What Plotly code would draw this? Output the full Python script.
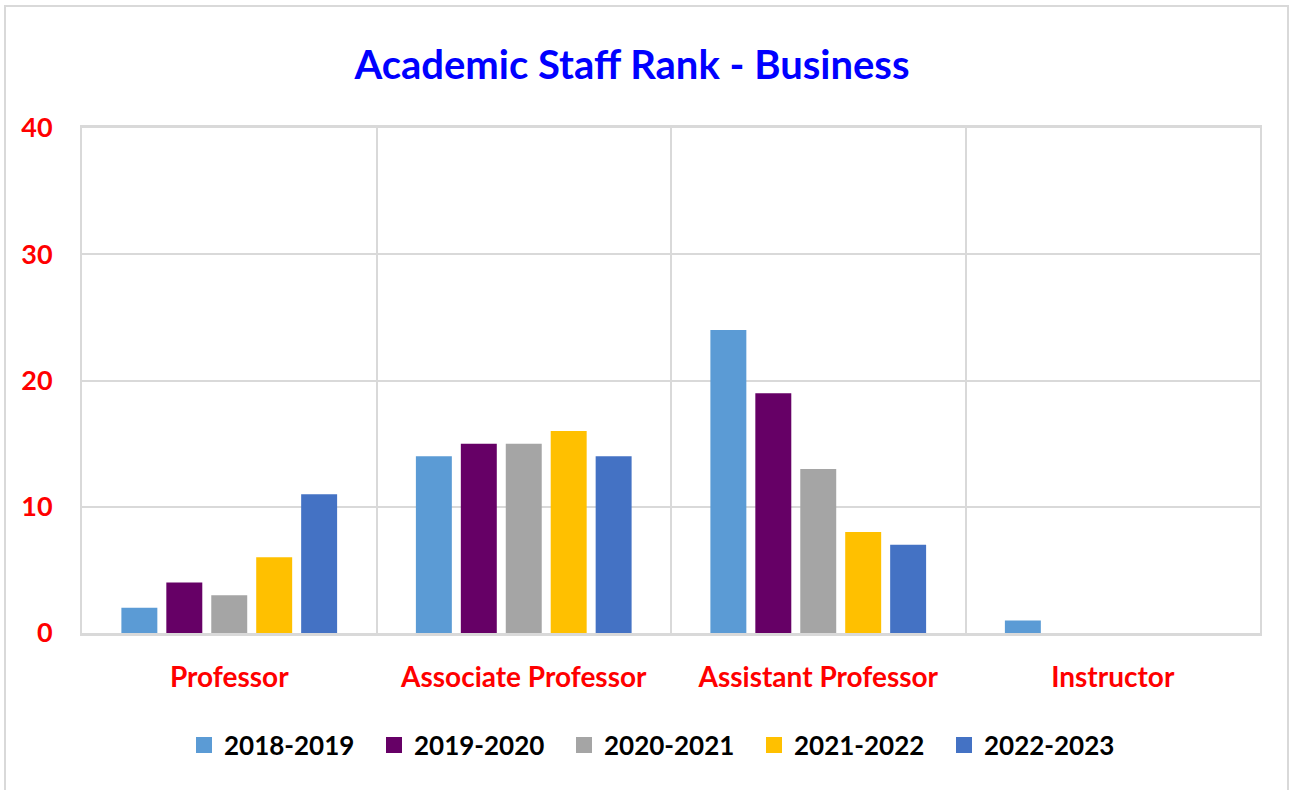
import plotly.graph_objects as go

categories = ["Professor", "Associate Professor", "Assistant Professor", "Instructor"]
years = ["2018-2019", "2019-2020", "2020-2021", "2021-2022", "2022-2023"]
v_2018_2019 = [2, 14, 24, 1]
v_2019_2020 = [4, 15, 19, 0]
v_2020_2021 = [3, 15, 13, 0]
v_2021_2022 = [6, 16, 8, 0]
v_2022_2023 = [11, 14, 7, 0]
series = [v_2018_2019, v_2019_2020, v_2020_2021, v_2021_2022, v_2022_2023]
colors = ["#5B9BD5", "#660066", "#A5A5A5", "#FFC000", "#4472C4"]
y_ticks = [0, 10, 20, 30, 40]

W, H = 1290, 790
ML, MR, MT, MB = 82, 30, 128, 157
FONT = "Lato"
GRID = "#D9D9D9"

fig = go.Figure()
for name, vals, col in zip(years, series, colors):
    fig.add_trace(go.Bar(x=categories, y=vals, name=name, marker_color=col,
                         marker_line_width=0, showlegend=False))
for name, col in zip(years, colors):
    fig.add_trace(go.Scatter(x=[None], y=[None], mode="markers", name=name,
                             marker=dict(symbol="square", size=16, color=col)))

pw = W - ML - MR
ph = H - MT - MB
fig.add_shape(type="rect", xref="paper", yref="paper",
              x0=(5 - ML) / pw, x1=(1288 - ML) / pw,
              y0=-(H + 5 - MT - ph) / ph, y1=1 + (MT - 6) / ph,
              line=dict(color=GRID, width=2), layer="below")

fig.update_layout(
    width=W, height=H,
    margin=dict(l=ML, r=MR, t=MT, b=MB),
    paper_bgcolor="white", plot_bgcolor="white",
    barmode="group", bargap=0.237, bargroupgap=0.2,
    title=dict(text="<b>Academic Staff Rank - Business</b>", x=632 / W, xref="container",
               xanchor="center", y=1 - 65 / H, yanchor="middle",
               font=dict(family=FONT, size=40, color="#0000FF")),
    legend=dict(orientation="h", xref="container", x=184 / W, xanchor="left",
                yref="container", y=1 - 745 / H, yanchor="middle",
                entrywidth=145, entrywidthmode="pixels",
                font=dict(family=FONT, size=26, color="black", weight="bold"),
                bgcolor="rgba(0,0,0,0)"),
    font=dict(family=FONT),
)
fig.update_xaxes(tickson="boundaries", showgrid=True, gridcolor=GRID, gridwidth=2,
                 showline=True, linecolor=GRID, linewidth=3, mirror=True,
                 ticks="", ticklabelstandoff=17,
                 tickfont=dict(family=FONT, size=28, color="#FF0000", weight="bold"))
fig.update_yaxes(range=[0, 40], tickvals=y_ticks, showgrid=True, gridcolor=GRID, gridwidth=2,
                 showline=True, linecolor=GRID, linewidth=2, mirror=True,
                 zeroline=False, ticks="", ticklabelstandoff=22,
                 tickfont=dict(family=FONT, size=27, color="#FF0000", weight="bold"))

fig.write_html("out.html", config={"displayModeBar": False},
               post_script="document.body.style.margin='0';document.body.style.overflow='hidden';")
